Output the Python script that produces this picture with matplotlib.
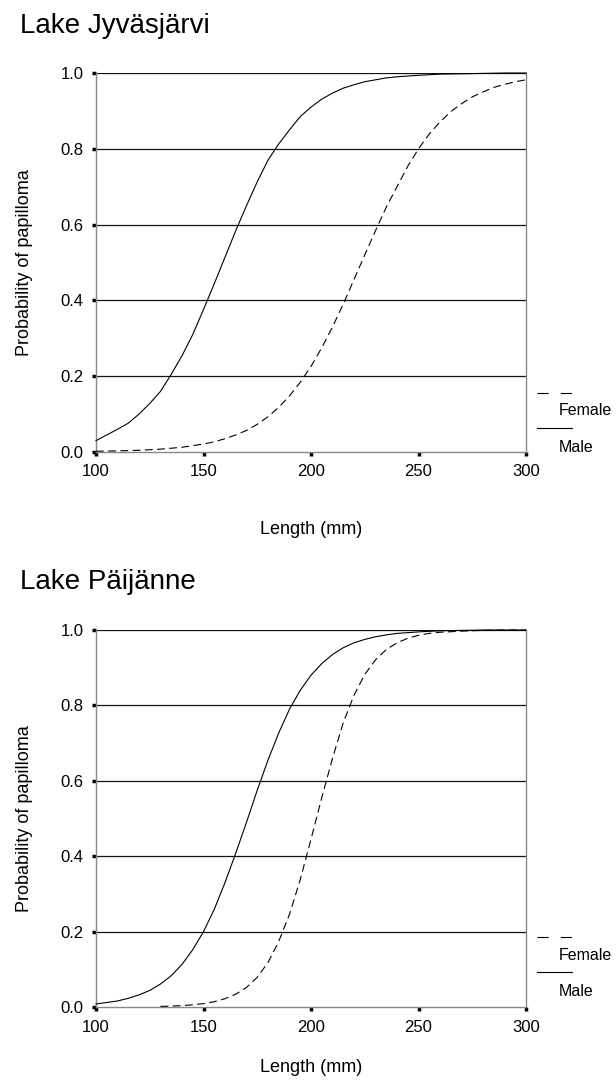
import matplotlib
matplotlib.use("Agg")
import matplotlib.pyplot as plt
from matplotlib.lines import Line2D

plt.rcParams['font.family'] = ['Liberation Sans', 'DejaVu Sans']

# Lake Jyvaskyla data
jyv_male_x = [100, 105, 110, 115, 120, 125, 130, 135, 140, 145, 150, 155, 160, 165, 170, 175,
              180, 185, 190, 195, 200, 205, 210, 215, 220, 225, 230, 235, 240, 245, 250,
              260, 270, 280, 290, 300]
jyv_male = [0.03, 0.045, 0.06, 0.076, 0.10, 0.128, 0.16, 0.205, 0.254, 0.31, 0.376, 0.444, 0.514, 0.584,
            0.65, 0.713, 0.77, 0.813, 0.85, 0.885, 0.91, 0.931, 0.947, 0.96, 0.969, 0.977, 0.982,
            0.987, 0.99, 0.992, 0.994, 0.997, 0.998, 0.999, 1.0, 1.0]
jyv_female_x = [100, 110, 120, 130, 140, 150, 155, 160, 165, 170, 175, 180, 185, 190, 195, 200,
                205, 210, 215, 220, 225, 230, 235, 240, 245, 250, 255, 260, 265, 270, 275,
                280, 285, 290, 295, 300]
jyv_female = [0.002, 0.003, 0.0045, 0.0075, 0.0125, 0.021, 0.027, 0.035, 0.045, 0.057, 0.073, 0.093,
              0.118, 0.148, 0.184, 0.226, 0.275, 0.33, 0.39, 0.455, 0.52, 0.584, 0.646, 0.70, 0.754,
              0.80, 0.839, 0.871, 0.898, 0.919, 0.937, 0.95, 0.962, 0.97, 0.977, 0.982]

# Lake Paijanne data
pai_male_x = [100, 105, 110, 115, 120, 125, 130, 135, 140, 145, 150, 155, 160, 165, 170, 175,
              180, 185, 190, 195, 200, 205, 210, 215, 220, 225, 230, 235, 240, 250,
              260, 270, 280, 290, 300]
pai_male = [0.008, 0.012, 0.016, 0.023, 0.032, 0.044, 0.061, 0.083, 0.113, 0.152, 0.20, 0.259, 0.33,
            0.408, 0.49, 0.575, 0.655, 0.727, 0.79, 0.84, 0.88, 0.911, 0.935, 0.953, 0.966, 0.975,
            0.982, 0.987, 0.991, 0.995, 0.998, 0.999, 1.0, 1.0, 1.0]
pai_female_x = [130, 135, 140, 145, 150, 155, 160, 165, 170, 175, 180, 185, 190, 195, 200, 205, 210,
                215, 220, 225, 230, 235, 240, 245, 250, 255, 260, 270, 280, 290, 300]
pai_female = [0.0015, 0.0024, 0.0037, 0.0058, 0.009, 0.014, 0.022, 0.034, 0.052, 0.079, 0.118, 0.174,
              0.246, 0.338, 0.445, 0.555, 0.66, 0.754, 0.827, 0.882, 0.921, 0.948, 0.966, 0.978,
              0.986, 0.991, 0.994, 0.997, 0.999, 1.0, 1.0]

x_ticks = [100, 150, 200, 250, 300]
y_ticks = [0.0, 0.2, 0.4, 0.6, 0.8, 1.0]

W, H = 616, 1085


def panel(fig, top_px, bottom_px, title, title_y, xlabel_y,
          mx, my, fx, fy, leg_y):
    ax = fig.add_axes([96 / W, 1 - bottom_px / H, 430 / W, (bottom_px - top_px) / H])
    for y in y_ticks[1:]:
        ax.axhline(y, color='#111111', lw=0.9, zorder=1)
    ax.plot(mx, my, color='black', lw=0.8, zorder=3, clip_on=False)
    ax.plot(fx, fy, color='black', lw=0.8, dashes=(7, 4), zorder=3, clip_on=False)
    ax.set_xlim(100, 300)
    ax.set_ylim(0, 1)
    ax.set_xticks(x_ticks)
    ax.set_yticks(y_ticks)
    ax.set_xticklabels([str(t) for t in x_ticks])
    ax.set_yticklabels(['%.1f' % t for t in y_ticks])
    ax.tick_params(length=3, width=2.5, color='black', labelsize=12, pad=6)
    for s in ['left', 'right', 'bottom']:
        ax.spines[s].set_color('#888888')
        ax.spines[s].set_linewidth(1.0)
    ax.spines['top'].set_visible(False)

    fig.text(20 / W, 1 - title_y / H, title, fontsize=20, va='center', ha='left')
    fig.text(311 / W, 1 - xlabel_y / H, 'Length (mm)', fontsize=13, va='center', ha='center')
    fig.text(25 / W, 1 - (top_px + bottom_px) / 2 / H, 'Probability of papilloma',
             fontsize=13, va='center', ha='center', rotation=90)

    # legend to the right
    fig.add_artist(Line2D([537 / W, 572 / W], [1 - leg_y / H] * 2, color='black',
                          lw=0.8, dashes=(10, 11)))
    fig.text(559 / W, 1 - (leg_y + 18) / H, 'Female', fontsize=11.5, va='center')
    fig.add_artist(Line2D([537 / W, 572 / W], [1 - (leg_y + 35) / H] * 2, color='black',
                          lw=0.8))
    fig.text(559 / W, 1 - (leg_y + 55) / H, 'Male', fontsize=11.5, va='center')
    return ax


fig = plt.figure(figsize=(W / 100, H / 100), dpi=100)
panel(fig, 73, 452, 'Lake Jyväsjärvi', 26, 530,
      jyv_male_x, jyv_male, jyv_female_x, jyv_female, 393)
panel(fig, 630, 1007, 'Lake Päijänne', 582, 1068,
      pai_male_x, pai_male, pai_female_x, pai_female, 937)
fig.savefig('out.png', dpi=100)
